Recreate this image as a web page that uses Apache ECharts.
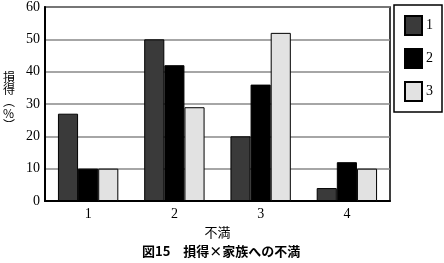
<!DOCTYPE html>
<html><head><meta charset="utf-8">
<script src="https://cdn.jsdelivr.net/npm/echarts@6/dist/echarts.min.js"></script>
<style>html,body{margin:0;padding:0;background:#fff}#c{width:444px;height:263px}</style>
</head><body><div id="c"></div>
<script>
const categories = ['1','2','3','4'];
const seriesNames = ['1','2','3'];
const s1 = [27, 50, 20, 4];
const s2 = [10, 42, 36, 12];
const s3 = [10, 29, 52, 10];
const yTicks = [0,10,20,30,40,50,60];
const yTitle = '損\n得\n︵\n%\n︶';
const xTitle = '不満';
const caption = '図15　損得×家族への不満';

const chart = echarts.init(document.getElementById('c'));
const serif = '"Liberation Serif", "DejaVu Serif", serif';
const cjk = '"Noto Sans CJK JP", sans-serif';
const colors = ['#3a3a3a', '#000000', '#e2e2e2'];
const vals = [s1, s2, s3];
chart.setOption({
  animation: false,
  grid: {left: 45, right: 54, top: 5, bottom: 62, show: true, borderColor: '#000', borderWidth: 1.5, backgroundColor: 'transparent'},
  legend: {
    orient: 'vertical', left: 394, top: 5, data: seriesNames,
    itemWidth: 17, itemHeight: 19, itemGap: 12,
    padding: [10, 9, 10, 10],
    borderColor: '#000', borderWidth: 1.5,
    textStyle: {fontFamily: serif, fontSize: 14, color: '#000', padding: [0,0,0,-1]},
    icon: 'rect'
  },
  xAxis: {
    type: 'category', data: categories,
    axisLine: {lineStyle: {color: '#000', width: 2}},
    axisTick: {inside: true, length: 4, lineStyle: {color: '#000'}},
    axisLabel: {fontFamily: serif, fontSize: 14, color: '#000', margin: 6},
    name: xTitle, nameLocation: 'middle', nameGap: 25,
    nameTextStyle: {fontFamily: cjk, fontSize: 13, color: '#000'}
  },
  yAxis: {
    type: 'value', min: 0, max: 60, interval: 10,
    axisLine: {show: true, lineStyle: {color: '#000', width: 2}},
    axisTick: {show: false},
    axisLabel: {fontFamily: serif, fontSize: 14, color: '#000', margin: 5,
      formatter: v => yTicks.includes(v) ? String(v) : ''},
    splitLine: {lineStyle: {color: '#888', width: 1.5}}
  },
  graphic: [
    {type: 'text', left: 3, top: 71, style: {text: yTitle, fontFamily: cjk, fontSize: 12, lineHeight: 12, fill: '#000', align: 'left'}},
    {type: 'text', left: 142, top: 245, style: {text: caption, fontFamily: cjk, fontSize: 13, fontWeight: 'bold', fill: '#000'}}
  ],
  series: vals.map((d, i) => ({
    type: 'bar', name: seriesNames[i], data: d,
    barGap: '0%', barCategoryGap: '30%',
    itemStyle: {color: colors[i], borderColor: '#000', borderWidth: 1}
  }))
});
</script></body></html>
